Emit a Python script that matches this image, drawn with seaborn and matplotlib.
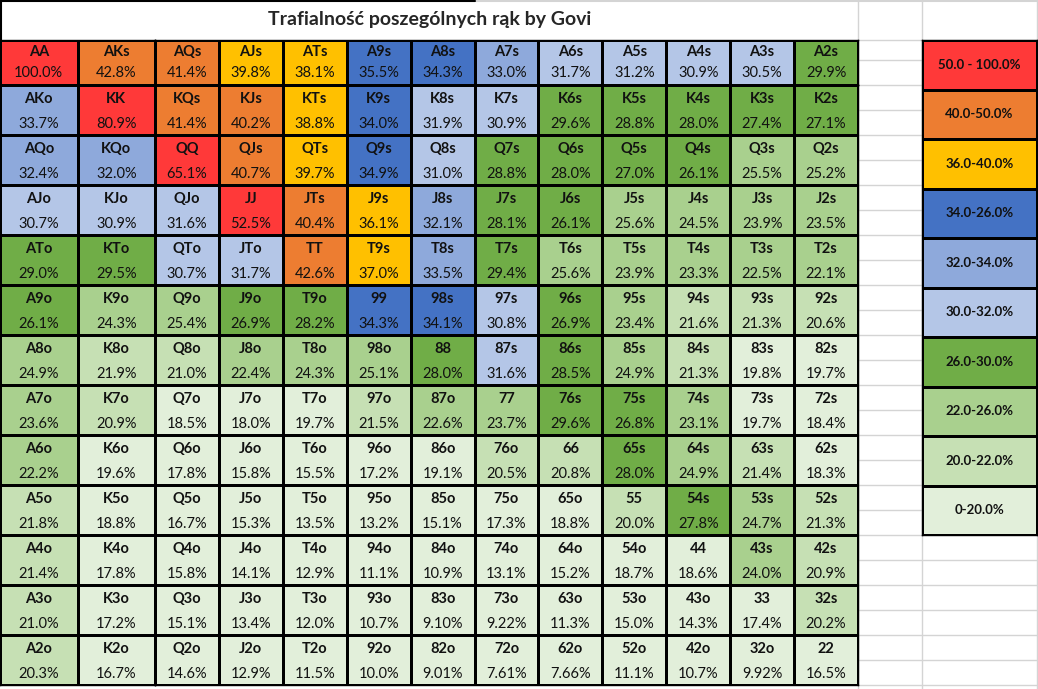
import numpy as np
import pandas as pd
import matplotlib.pyplot as plt
import seaborn as sns
from matplotlib.colors import ListedColormap

sns.set_style('white')
plt.rcParams['font.family'] = ['Lato', 'DejaVu Sans']

# ================== dane ==================
title = 'Trafialność poszególnych rąk by Govi'

hands = [
    ['AA', 'AKs', 'AQs', 'AJs', 'ATs', 'A9s', 'A8s', 'A7s', 'A6s', 'A5s', 'A4s', 'A3s', 'A2s'],
    ['AKo', 'KK', 'KQs', 'KJs', 'KTs', 'K9s', 'K8s', 'K7s', 'K6s', 'K5s', 'K4s', 'K3s', 'K2s'],
    ['AQo', 'KQo', 'QQ', 'QJs', 'QTs', 'Q9s', 'Q8s', 'Q7s', 'Q6s', 'Q5s', 'Q4s', 'Q3s', 'Q2s'],
    ['AJo', 'KJo', 'QJo', 'JJ', 'JTs', 'J9s', 'J8s', 'J7s', 'J6s', 'J5s', 'J4s', 'J3s', 'J2s'],
    ['ATo', 'KTo', 'QTo', 'JTo', 'TT', 'T9s', 'T8s', 'T7s', 'T6s', 'T5s', 'T4s', 'T3s', 'T2s'],
    ['A9o', 'K9o', 'Q9o', 'J9o', 'T9o', '99', '98s', '97s', '96s', '95s', '94s', '93s', '92s'],
    ['A8o', 'K8o', 'Q8o', 'J8o', 'T8o', '98o', '88', '87s', '86s', '85s', '84s', '83s', '82s'],
    ['A7o', 'K7o', 'Q7o', 'J7o', 'T7o', '97o', '87o', '77', '76s', '75s', '74s', '73s', '72s'],
    ['A6o', 'K6o', 'Q6o', 'J6o', 'T6o', '96o', '86o', '76o', '66', '65s', '64s', '63s', '62s'],
    ['A5o', 'K5o', 'Q5o', 'J5o', 'T5o', '95o', '85o', '75o', '65o', '55', '54s', '53s', '52s'],
    ['A4o', 'K4o', 'Q4o', 'J4o', 'T4o', '94o', '84o', '74o', '64o', '54o', '44', '43s', '42s'],
    ['A3o', 'K3o', 'Q3o', 'J3o', 'T3o', '93o', '83o', '73o', '63o', '53o', '43o', '33', '32s'],
    ['A2o', 'K2o', 'Q2o', 'J2o', 'T2o', '92o', '82o', '72o', '62o', '52o', '42o', '32o', '22'],
]

values = [
    [100.0, 42.8, 41.4, 39.8, 38.1, 35.5, 34.3, 33.0, 31.7, 31.2, 30.9, 30.5, 29.9],
    [33.7, 80.9, 41.4, 40.2, 38.8, 34.0, 31.9, 30.9, 29.6, 28.8, 28.0, 27.4, 27.1],
    [32.4, 32.0, 65.1, 40.7, 39.7, 34.9, 31.0, 28.8, 28.0, 27.0, 26.1, 25.5, 25.2],
    [30.7, 30.9, 31.6, 52.5, 40.4, 36.1, 32.1, 28.1, 26.1, 25.6, 24.5, 23.9, 23.5],
    [29.0, 29.5, 30.7, 31.7, 42.6, 37.0, 33.5, 29.4, 25.6, 23.9, 23.3, 22.5, 22.1],
    [26.1, 24.3, 25.4, 26.9, 28.2, 34.3, 34.1, 30.8, 26.9, 23.4, 21.6, 21.3, 20.6],
    [24.9, 21.9, 21.0, 22.4, 24.3, 25.1, 28.0, 31.6, 28.5, 24.9, 21.3, 19.8, 19.7],
    [23.6, 20.9, 18.5, 18.0, 19.7, 21.5, 22.6, 23.7, 29.6, 26.8, 23.1, 19.7, 18.4],
    [22.2, 19.6, 17.8, 15.8, 15.5, 17.2, 19.1, 20.5, 20.8, 28.0, 24.9, 21.4, 18.3],
    [21.8, 18.8, 16.7, 15.3, 13.5, 13.2, 15.1, 17.3, 18.8, 20.0, 27.8, 24.7, 21.3],
    [21.4, 17.8, 15.8, 14.1, 12.9, 11.1, 10.9, 13.1, 15.2, 18.7, 18.6, 24.0, 20.9],
    [21.0, 17.2, 15.1, 13.4, 12.0, 10.7, 9.10, 9.22, 11.3, 15.0, 14.3, 17.4, 20.2],
    [20.3, 16.7, 14.6, 12.9, 11.5, 10.0, 9.01, 7.61, 7.66, 11.1, 10.7, 9.92, 16.5],
]

# progi przedziałów (od najniższego) i kolory jak w Excelu
bins = [20, 22, 26, 30, 32, 34, 36, 40, 50]
colors = ['#E2EFDA', '#C6E0B4', '#A9D08E', '#70AD47', '#B4C6E7',
          '#8EA9DB', '#4472C4', '#FFC000', '#ED7D31', '#FF3939']
legend_labels = ['50.0 - 100.0%', '40.0-50.0%', '36.0-40.0%', '34.0-26.0%', '32.0-34.0%',
                 '30.0-32.0%', '26.0-30.0%', '22.0-26.0%', '20.0-22.0%', '0-20.0%']
legend_cats = [9, 8, 7, 6, 5, 4, 3, 2, 1, 0]

# ================== przygotowanie ==================
vals = np.array(values)
cats = pd.DataFrame(np.digitize(vals, bins))
cmap = ListedColormap(colors)


def fmt_pct(v):
    return f'{v:.1f}%' if v >= 10 else f'{v:.2f}%'


W, H = 1038, 689
fig = plt.figure(figsize=(W / 100, H / 100), dpi=100)
fig.patch.set_facecolor('white')

# tło arkusza (szare linie siatki)
bg = fig.add_axes([0, 0, 1, 1])
bg.set_xlim(0, W)
bg.set_ylim(H, 0)
bg.axis('off')
grey = '#D4D4D4'
for y in range(60, H + 1, 25):
    bg.plot([858, 922], [y, y], color=grey, lw=1)
for y in range(560, H + 1, 25):
    bg.plot([922, W], [y, y], color=grey, lw=1)
bg.plot([858, W], [40, 40], color=grey, lw=1)
for x in [858, 922, 1037]:
    bg.plot([x, x], [0, H], color=grey, lw=1)
bg.plot([475, W], [0.7, 0.7], color=grey, lw=1.5)
bg.plot([0, 475], [0.7, 0.7], color='black', lw=1.5)
bg.plot([0.7, 0.7], [0, 40], color='black', lw=1.5)
bg.text(430, 20, title, ha='center', va='center', fontsize=14, weight='bold')


def px_axes(x0, y0, x1, y1):
    return fig.add_axes([x0 / W, 1 - y1 / H, (x1 - x0) / W, (y1 - y0) / H])


# siatka: pierwsze dwie kolumny są szersze, pierwszy wiersz niższy
col_groups = [(0, 2, 0, 155), (2, 13, 155, 858)]
row_groups = [(0, 1, 40, 85, 0.27, 0.73), (1, 13, 85, 685, 0.28, 0.77)]
for c0, c1, x0, x1 in col_groups:
    for r0, r1, y0, y1, ly, py in row_groups:
        ax = px_axes(x0, y0, x1, y1)
        sns.heatmap(cats.iloc[r0:r1, c0:c1], ax=ax, cmap=cmap, vmin=-0.5, vmax=9.5,
                    cbar=False, linewidths=1.0, linecolor='black',
                    xticklabels=False, yticklabels=False)
        for i in range(r0, r1):
            for j in range(c0, c1):
                ax.text(j - c0 + 0.5, i - r0 + ly, hands[i][j], ha='center', va='center',
                        fontsize=10.5, weight='bold', color='#111111')
                ax.text(j - c0 + 0.5, i - r0 + py, fmt_pct(values[i][j]), ha='center',
                        va='center', fontsize=10.5, color='#111111')
        for s in ax.spines.values():
            s.set_visible(True)
            s.set_color('black')
            s.set_linewidth(1.0)

# legenda
lax = px_axes(922, 40, 1037, 535)
sns.heatmap(pd.DataFrame({'k': legend_cats}), ax=lax, cmap=cmap, vmin=-0.5, vmax=9.5,
            cbar=False, linewidths=1.0, linecolor='black',
            annot=np.array(legend_labels).reshape(-1, 1), fmt='',
            annot_kws={'weight': 'bold', 'color': '#111111', 'fontsize': 9.5},
            xticklabels=False, yticklabels=False)
for s in lax.spines.values():
    s.set_visible(True)
    s.set_color('black')
    s.set_linewidth(1.0)

fig.savefig('out.png', dpi=100, facecolor='white')
